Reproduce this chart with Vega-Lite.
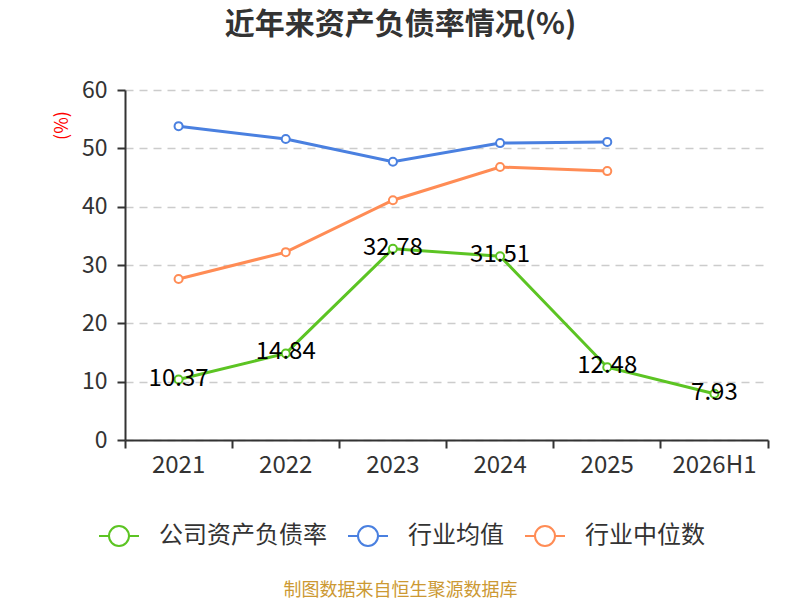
{
  "$schema": "https://vega.github.io/schema/vega-lite/v6.json",
  "autosize": "none",
  "width": 643,
  "height": 350,
  "padding": {"left": 125, "top": 90, "right": 32, "bottom": 160},
  "background": "white",
  "config": {
    "font": "Noto Sans CJK SC",
    "view": {"stroke": null}
  },
  "title": {
    "text": "近年来资产负债率情况(%)",
    "fontSize": 30,
    "fontWeight": "bold",
    "color": "#333333",
    "anchor": "middle",
    "dx": -46,
    "offset": 39
  },
  "data": {
    "values": [
      {"year": "2021", "series": "公司资产负债率", "value": 10.37},
      {"year": "2022", "series": "公司资产负债率", "value": 14.84},
      {"year": "2023", "series": "公司资产负债率", "value": 32.78},
      {"year": "2024", "series": "公司资产负债率", "value": 31.51},
      {"year": "2025", "series": "公司资产负债率", "value": 12.48},
      {"year": "2026H1", "series": "公司资产负债率", "value": 7.93},
      {"year": "2021", "series": "行业均值", "value": 53.8},
      {"year": "2022", "series": "行业均值", "value": 51.6},
      {"year": "2023", "series": "行业均值", "value": 47.7},
      {"year": "2024", "series": "行业均值", "value": 50.9},
      {"year": "2025", "series": "行业均值", "value": 51.1},
      {"year": "2021", "series": "行业中位数", "value": 27.6},
      {"year": "2022", "series": "行业中位数", "value": 32.2},
      {"year": "2023", "series": "行业中位数", "value": 41.1},
      {"year": "2024", "series": "行业中位数", "value": 46.8},
      {"year": "2025", "series": "行业中位数", "value": 46.1}
    ]
  },
  "encoding": {
    "x": {
      "field": "year",
      "type": "ordinal",
      "sort": null,
      "scale": {"type": "band", "paddingInner": 0, "paddingOuter": 0},
      "axis": {
        "title": "制图数据来自恒生聚源数据库",
        "titleColor": "#cc9933",
        "titleFontSize": 18,
        "titleFontWeight": "normal",
        "titleX": 275,
        "titleY": 150,
        "titleBaseline": "middle",
        "titleAnchor": "middle",
        "labelAngle": 0,
        "labelFontSize": 24,
        "labelColor": "#333333",
        "labelPadding": 5,
        "domainColor": "#333333",
        "domainWidth": 2,
        "tickColor": "#333333",
        "tickWidth": 2,
        "tickSize": 8,
        "bandPosition": 1,
        "tickExtra": true,
        "grid": false
      }
    },
    "y": {
      "field": "value",
      "type": "quantitative",
      "scale": {"domain": [0, 60], "nice": false},
      "axis": {
        "title": "(%)",
        "titleColor": "#ff0000",
        "titleFontSize": 18,
        "titleFontWeight": "normal",
        "titleX": -63,
        "titleY": 35,
        "titleAlign": "center",
        "titleBaseline": "middle",
        "values": [0, 10, 20, 30, 40, 50, 60],
        "labelFontSize": 23,
        "labelColor": "#333333",
        "labelPadding": 10,
        "domainColor": "#333333",
        "domainWidth": 2,
        "tickColor": "#333333",
        "tickWidth": 2,
        "tickSize": 8,
        "grid": true,
        "gridColor": "#cccccc",
        "gridDash": [8, 6],
        "gridWidth": 1.5
      }
    },
    "color": {
      "field": "series",
      "type": "nominal",
      "sort": ["公司资产负债率", "行业均值", "行业中位数"],
      "scale": {
        "domain": ["公司资产负债率", "行业均值", "行业中位数"],
        "range": ["#5cc423", "#4a80e0", "#ff8c55"]
      },
      "legend": {
        "title": null,
        "orient": "none",
        "direction": "horizontal",
        "legendX": -18,
        "legendY": 434,
        "symbolType": "M-2,0H-1M1,0H2M1,0A1,1 0 1 1 -1,0A1,1 0 1 1 1,0",
        "symbolSize": 400,
        "symbolStrokeWidth": 2,
        "symbolFillColor": "white",
        "labelFontSize": 24,
        "labelLimit": 400,
        "labelColor": "#333333",
        "labelOffset": 28,
        "columnPadding": 17
      }
    }
  },
  "layer": [
    {"mark": {"type": "line", "strokeWidth": 3}},
    {"mark": {"type": "point", "filled": false, "fill": "white", "size": 65, "strokeWidth": 2, "opacity": 1}},
    {
      "transform": [{"filter": "datum.series === '公司资产负债率'"}],
      "mark": {"type": "text", "fontSize": 24, "color": "#000000", "align": "center", "baseline": "middle", "dy": -1},
      "encoding": {
        "text": {"field": "value", "type": "quantitative", "format": ".2f"},
        "color": {"value": "#000000"}
      }
    }
  ]
}
